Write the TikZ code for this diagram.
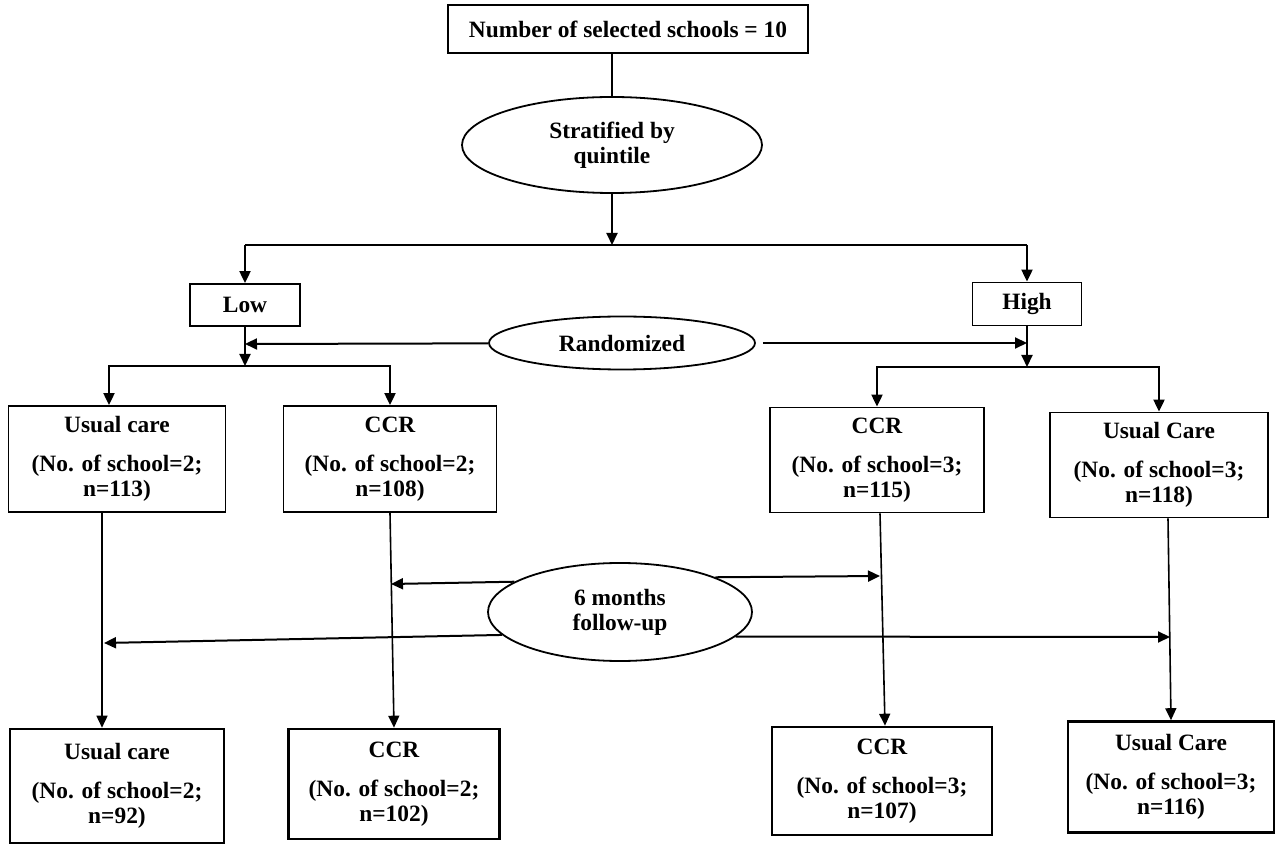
\documentclass[tikz,border=0pt]{standalone}
\usepackage{fontspec}
\setmainfont{Liberation Serif}
\usetikzlibrary{arrows.meta, shapes.geometric}

\begin{document}
\begin{tikzpicture}[
  x=0.5pt, y=-0.5pt,
  box/.style={draw, line width=0.9pt, inner sep=2pt,
    font=\fontsize{11.7}{12.5}\selectfont\bfseries, align=center},
  grp/.style={box, minimum height=53pt},
  oval/.style={draw, ellipse, line width=0.9pt, inner sep=0pt,
    font=\fontsize{11.7}{12.5}\selectfont\bfseries, align=center},
  arr/.style={-{Triangle[length=6pt, width=5.5pt]}, line width=1pt},
  link/.style={line width=1pt},
]
  \useasboundingbox (0,0) rectangle (1275,844);

  \node[box, minimum width=180pt, minimum height=24pt] (sel) at (628,29) {Number of selected schools = 10};
  \node[oval, minimum width=150pt, minimum height=48pt] (strat) at (612,145) {Stratified by\\quintile};
  \node[box, minimum width=55pt, minimum height=21pt] (low) at (245,305) {Low};
  \node[box, minimum width=54.5pt, minimum height=21.5pt] (high) at (1027,304) {High};
  \node[oval, minimum width=133pt, minimum height=26.5pt] (rand) at (622,343) {Randomized};

  % groups after randomisation
  \node[grp, minimum width=108.5pt] (uc1) at (117,459) {Usual care\\[7pt](No. of school=2;\\n=113)};
  \node[grp, minimum width=106.5pt] (ccr1) at (390,459) {CCR\\[7pt](No. of school=2;\\n=108)};
  \node[grp, minimum width=107pt, minimum height=52.5pt] (ccr2) at (877,460) {CCR\\[7pt](No. of school=3;\\n=115)};
  \node[grp, minimum width=109pt, minimum height=52.5pt] (uc2) at (1159,465) {Usual Care\\[7pt](No. of school=3;\\n=118)};

  \node[oval, minimum width=132pt, minimum height=49pt] (fu) at (620,612) {6 months\\follow-up};

  % groups at follow-up
  \node[grp, line width=1.3pt, minimum width=107pt, minimum height=57pt] (uc3) at (117,786) {Usual care\\[7pt](No. of school=2;\\n=92)};
  \node[grp, line width=1.3pt, minimum width=105.5pt, minimum height=55pt] (ccr3) at (394,784) {CCR\\[7pt](No. of school=2;\\n=102)};
  \node[grp, line width=1.3pt, minimum width=110pt, minimum height=54pt] (ccr4) at (882,781) {CCR\\[7pt](No. of school=3;\\n=107)};
  \node[grp, line width=1.3pt, minimum width=103pt, minimum height=55.5pt] (uc4) at (1171,777) {Usual Care\\[7pt](No. of school=3;\\n=116)};

  \coordinate (split) at (612,245);
  \coordinate (lowtop) at (245,245);
  \coordinate (hightop) at (1027,245);
  \coordinate (lowmid) at (245,344);
  \coordinate (lowsplit) at (245,366);
  \coordinate (highmid) at (1027,343);
  \coordinate (highsplit) at (1027,367);

  \draw[link] (sel.south -| strat.north) -- (strat.north);
  \draw[arr] (strat.south) -- (split);
  \draw[link] (lowtop) -- (hightop);
  \draw[arr] (lowtop) -- (low);
  \draw[arr] (hightop) -- (high);

  \draw[arr] (low) -- (lowsplit);
  \draw[arr] (rand) -- (lowmid);
  \draw[arr] (lowsplit) -| ([xshift=-4pt]uc1.north);
  \draw[arr] (lowsplit) -| (ccr1.north);

  \draw[arr] (high) -- (highsplit);
  \draw[arr] ([xshift=3.5pt]rand.east) -- (highmid);
  \draw[arr] (highsplit) -| (ccr2.north);
  \draw[arr] (highsplit) -| (uc2.north);

  \draw[arr, line width=0.8pt] ([xshift=-7.5pt]uc1.south) -- ([xshift=-7.5pt]uc3.north);
  \draw[arr, line width=0.8pt] (ccr1.south) -- (ccr3.north);
  \draw[arr, line width=0.8pt] ([xshift=1.5pt]ccr2.south) -- ([xshift=1.5pt]ccr4.north);
  \draw[arr, line width=0.8pt] ([xshift=4.5pt]uc2.south) -- (uc4.north);

  \coordinate (fuccr1) at (391,584);
  \coordinate (fuccr2) at (880,576);
  \coordinate (fuuc1) at (104,643);
  \coordinate (fuuc2) at (1170,637);
  \draw[arr] (fu.164) -- (fuccr1);
  \draw[arr] (fu.20) -- (fuccr2);
  \draw[arr] (fu.191) -- (fuuc1);
  \draw[arr] (fu.348) -- (fuuc2);
\end{tikzpicture}
\end{document}
